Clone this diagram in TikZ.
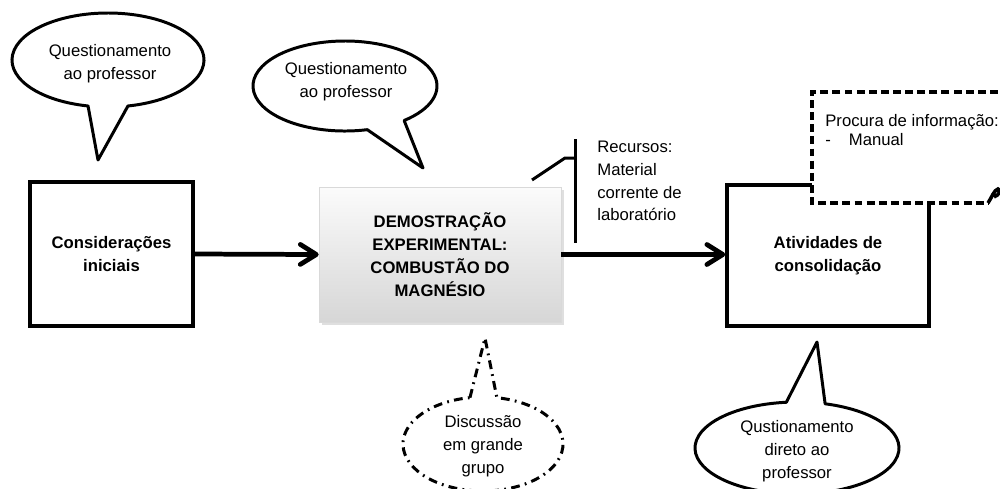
\documentclass[tikz,border=0pt]{standalone}
\usepackage{fontspec}
\setmainfont{Liberation Sans}
\usetikzlibrary{arrows.meta,shadows}

% speech bubble: #1 style, #2 centre, #3/#4 radii, #5/#6 angles where the tail meets the outline,
% #7 end angle of the outline arc (#5+360), #8 tail tip
\newcommand{\talkbubble}[8]{%
  \draw[#1] ([shift={(#2)}]#5:#3 and #4) -- (#8) -- ([shift={(#2)}]#6:#3 and #4)
    arc[start angle=#6, end angle=#7, x radius=#3, y radius=#4] -- cycle;}

\begin{document}
\begin{tikzpicture}[x=0.02cm,y=-0.02cm,
  txt/.style={font=\fontsize{9.5}{13}\selectfont, align=center, inner sep=0pt},
  stagebox/.style={line width=2pt, font=\fontsize{9.5}{13.2}\selectfont\bfseries,
    align=center, inner sep=0pt},
  flow/.style={line width=2.7pt, -{Straight Barb[length=3.2mm,width=4mm,round]}},
  bubble/.style={draw, line width=1.7pt, fill=white, line join=round},
  dashdot/.style={dash pattern=on 5pt off 3pt on 1pt off 3pt},
  note/.style={line width=1.7pt},
]
\useasboundingbox (0,0) rectangle (1000,488);

% stages of the lesson
\node[stagebox, draw, minimum width=3.26cm, minimum height=2.88cm] (cons) at (111.5,254)
  {Considerações\\iniciais};
\node[stagebox, draw=gray!30, line width=0.4pt, top color=gray!3, bottom color=gray!32,
  drop shadow={shadow xshift=0.6mm, shadow yshift=-0.6mm, opacity=0.25},
  minimum width=4.84cm, minimum height=2.7cm] (demo) at (440,254.5)
  {DEMOSTRAÇÃO\\EXPERIMENTAL:\\COMBUSTÃO DO\\MAGNÉSIO};
\node[stagebox, draw, minimum width=4.04cm, minimum height=2.82cm] (ativ) at (828,255.5)
  {Atividades de\\consolidação};

% flow between the stages
\draw[flow] (cons.east) -- (demo.west);
\draw[flow] (demo.east) -- (demo.east -| ativ.west);

% resources bracket
\coordinate (rtop) at (575,139);
\coordinate (rbot) at (575,243);
\coordinate (rmid) at (575,158);
\coordinate (rknee) at (565,158);
\coordinate (rend) at (532,180);
\draw[note] (rtop) -- (rbot);
\draw[note] (rmid) -- (rknee) -- (rend);
\node[txt, align=left, anchor=west] (rec) at (597,181)
  {Recursos:\\Material\\corrente de\\laboratório};

% information search callout
\draw[line width=2pt, dash pattern=on 4.5pt off 2.4pt, fill=white]
  (1010,92) -- (812,92) -- (812,203) -- (988,203);
\draw[line width=2pt] (988,203) .. controls (992,197) and (994,190) .. (998,189)
  .. controls (1001,189) and (1000,195) .. (994,197);
\node[font=\fontsize{9.5}{11}\selectfont, align=left, anchor=north west, inner sep=0pt]
  (info) at (825,114) {Procura de informação:\\-\hspace{3.6mm}Manual};

% speech bubbles
\talkbubble{bubble}{108,60}{96}{47}{78}{102}{438}{98,160}
\node[txt] (q1) at (110,64) {Questionamento\\ao professor};

\talkbubble{bubble}{345,86}{92}{45}{50}{76}{410}{423,168}
\node[txt] (q2) at (346,82) {Questionamento\\ao professor};

\talkbubble{bubble, dashdot}{483,444}{80}{47}{260.6}{280}{620.6}{485,338}
\node[txt] (disc) at (483,446) {Discussão\\em grande\\grupo};

\talkbubble{bubble}{797,448}{102}{46}{264}{286}{624}{817,342}
\node[txt] (q4) at (797,451) {Qustionamento\\direto ao\\professor};
\end{tikzpicture}
\end{document}
